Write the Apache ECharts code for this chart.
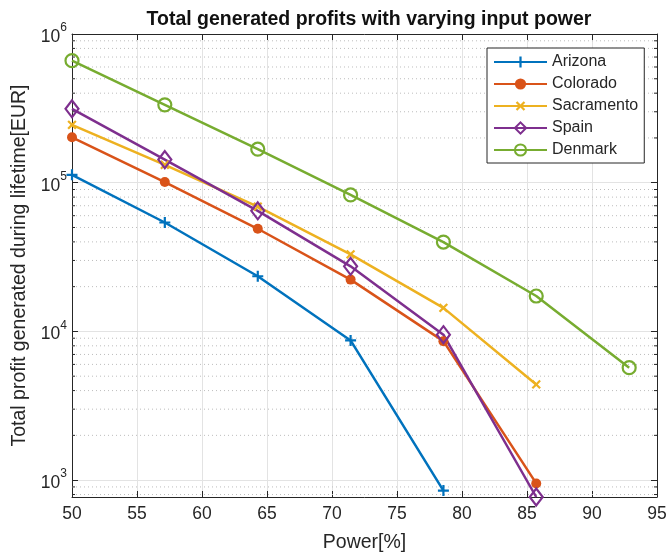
<!DOCTYPE html>
<html>
<head>
<meta charset="utf-8">
<script src="https://cdn.jsdelivr.net/npm/echarts@6/dist/echarts.min.js"></script>
<style>
  html, body { margin: 0; padding: 0; background: #fff; }
  #chart { width: 670px; height: 553px; }
</style>
</head>
<body>
<div id="chart"></div>
<script>
// Input power levels [%]
const powers = [50, 57.14, 64.29, 71.43, 78.57, 85.71, 92.86];

// Total profit over lifetime [EUR] per site
const arizona    = [113000, 54000, 23500, 8700, 850];
const colorado   = [202000, 101000, 49000, 22300, 8600, 950];
const sacramento = [245000, 132000, 69000, 33000, 14400, 4400];
const spain      = [314000, 143000, 64700, 27400, 9500, 770];
const denmark    = [662000, 334000, 168000, 82700, 39900, 17300, 5700];

// Axis ranges and log minor grid values
const xRange = [50, 95];
const xStep = 5;
const yRange = [770, 1000000];
const minorGrid = [800, 900,
  2000, 3000, 4000, 5000, 6000, 7000, 8000, 9000,
  20000, 30000, 40000, 50000, 60000, 70000, 80000, 90000,
  200000, 300000, 400000, 500000, 600000, 700000, 800000, 900000];

const FONT = '"Liberation Sans", Arial, Helvetica, sans-serif';
const TXT = '#262626';
const AX = '#262626';

const pair = vals => vals.map((v, i) => [powers[i], v]);

const plusPath = 'path://M4,0H6V4H10V6H6V10H4V6H0V4H4Z';

function lineSeries(name, vals, color, symbol, size, opts) {
  return Object.assign({
    name: name,
    type: 'line',
    data: pair(vals),
    symbol: symbol,
    symbolSize: size,
    lineStyle: { color: color, width: 2.5 },
    itemStyle: { color: color },
    z: 5,
    clip: false,
    animation: false
  }, opts || {});
}

const chart = echarts.init(document.getElementById('chart'), null, { renderer: 'canvas' });

const supLabel = v => {
  const e = Math.log10(v);
  const r = Math.round(e);
  if (Math.abs(e - r) > 1e-6) return '';
  return '{b|10}{s|' + r + '}';
};

chart.setOption({
  backgroundColor: '#fff',
  animation: false,
  textStyle: { fontFamily: FONT },
  title: {
    text: 'Total generated profits with varying input power',
    left: 364, top: 5, textAlign: 'center',
    textStyle: { fontFamily: FONT, fontSize: 19.5, fontWeight: 'bold', color: '#111' }
  },
  grid: { left: 72, top: 34, right: 13, bottom: 56, outerBoundsMode: 'none' },
  legend: {
    orient: 'vertical',
    left: 487, top: 48,
    itemWidth: 53, itemHeight: 14, itemGap: 6,
    padding: [6, 6, 5, 6],
    borderColor: '#262626', borderWidth: 1,
    backgroundColor: '#fff',
    textStyle: { fontFamily: FONT, fontSize: 16, color: TXT },
    data: ['Arizona', 'Colorado', 'Sacramento', 'Spain', 'Denmark']
  },
  xAxis: [{
    type: 'value', min: xRange[0], max: xRange[1], interval: xStep,
    name: 'Power[%]', nameLocation: 'middle', nameGap: 36,
    nameTextStyle: { fontFamily: FONT, fontSize: 19.5, color: TXT },
    axisLine: { show: true, onZero: false, lineStyle: { color: AX, width: 1 } },
    axisTick: { show: true, inside: true, length: 6, lineStyle: { color: AX } },
    axisLabel: { fontFamily: FONT, fontSize: 17.5, color: TXT, margin: 8 },
    splitLine: { show: true, lineStyle: { color: '#e3e3e3', width: 1 } }
  }, {
    type: 'value', position: 'top', min: xRange[0], max: xRange[1], interval: xStep,
    axisLine: { show: true, onZero: false, lineStyle: { color: AX, width: 1 } },
    axisTick: { show: true, inside: true, length: 6, lineStyle: { color: AX } },
    axisLabel: { show: false },
    splitLine: { show: false }
  }],
  yAxis: [{
    type: 'log', logBase: 10, min: yRange[0], max: yRange[1],
    name: 'Total profit generated during lifetime[EUR]',
    nameLocation: 'middle', nameGap: 40,
    nameTextStyle: { fontFamily: FONT, fontSize: 19.5, color: TXT },
    axisLine: { show: true, onZero: false, lineStyle: { color: AX, width: 1 } },
    axisTick: { show: true, inside: true, length: 6, lineStyle: { color: AX } },
    axisLabel: {
      margin: 5, formatter: supLabel,
      rich: {
        b: { fontFamily: FONT, fontSize: 17.5, color: TXT, lineHeight: 24, verticalAlign: 'bottom' },
        s: { fontFamily: FONT, fontSize: 12, color: TXT, lineHeight: 24, verticalAlign: 'top' }
      }
    },
    splitLine: { show: true, lineStyle: { color: '#e3e3e3', width: 1 } }
  }, {
    type: 'log', logBase: 10, position: 'right', min: yRange[0], max: yRange[1],
    axisLine: { show: true, onZero: false, lineStyle: { color: AX, width: 1 } },
    axisTick: { show: true, inside: true, length: 6, lineStyle: { color: AX } },
    axisLabel: { show: false },
    splitLine: { show: false }
  }],
  series: [
    {
      // dotted minor grid lines with short inward minor ticks on both sides
      type: 'custom',
      silent: true,
      z: 1,
      data: minorGrid.map(v => [v]),
      encode: { y: 0 },
      renderItem: function (params, api) {
        const cs = params.coordSys;
        const y = api.coord([xRange[0], api.value(0)])[1];
        const x0 = cs.x, x1 = cs.x + cs.width;
        return {
          type: 'group',
          children: [
            { type: 'line', shape: { x1: x0, y1: y, x2: x1, y2: y },
              style: { stroke: '#bdbdbd', lineWidth: 1, lineDash: [1, 3] } },
            { type: 'line', shape: { x1: x0, y1: y, x2: x0 + 3, y2: y },
              style: { stroke: AX, lineWidth: 1 } },
            { type: 'line', shape: { x1: x1 - 3, y1: y, x2: x1, y2: y },
              style: { stroke: AX, lineWidth: 1 } }
          ]
        };
      }
    },
    lineSeries('Arizona', arizona, '#0072BD', plusPath, 11),
    lineSeries('Colorado', colorado, '#D95319', 'circle', 10),
    lineSeries('Sacramento', sacramento, '#EDB120', plusPath, 11, { symbolRotate: 45 }),
    lineSeries('Spain', spain, '#7E2F8E', 'diamond', [13, 17], {
      itemStyle: { color: 'rgba(255,255,255,0)', borderColor: '#7E2F8E', borderWidth: 2.2 }
    }),
    lineSeries('Denmark', denmark, '#77AC30', 'circle', 13, {
      itemStyle: { color: 'rgba(255,255,255,0)', borderColor: '#77AC30', borderWidth: 2.2 }
    })
  ]
});
</script>
</body>
</html>
